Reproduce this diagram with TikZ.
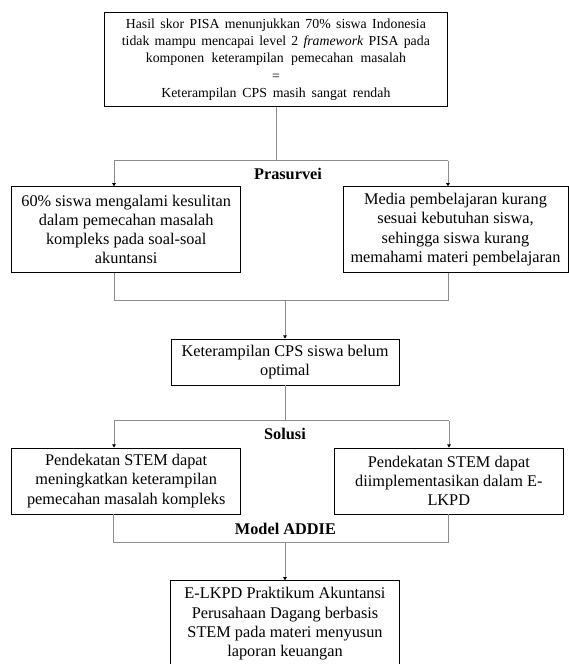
\documentclass[tikz,border=0pt]{standalone}
\usepackage{fontspec}
\setmainfont{Liberation Serif}
\usetikzlibrary{arrows.meta}
\newcommand{\wideline}[2]{\makebox[#1][s]{#2}}

\begin{document}
\begin{tikzpicture}[x=1pt,y=-1pt,
  kotak/.style={draw=black,line width=0.8pt,inner sep=0pt,align=center,
    font=\fontsize{16.3}{19.2}\selectfont},
  garis/.style={draw=black!45,line width=0.7pt},
  panah/.style={garis,-{Triangle[length=3.2pt,width=3.6pt,color=black]}},
  judul/.style={font=\fontsize{16.3}{19.2}\selectfont\bfseries,inner sep=0pt}]
\useasboundingbox (0,0) rectangle (569,664);

\node[kotak,minimum width=342.3pt,minimum height=93.8pt,
  font=\fontsize{13.8}{17.3}\selectfont] (pisa) at (275.9,59.6)
  {\wideline{300pt}{Hasil skor PISA menunjukkan 70\% siswa Indonesia}\\
   \wideline{308pt}{tidak mampu mencapai level 2 \emph{framework} PISA pada}\\
   \wideline{260pt}{komponen keterampilan pemecahan masalah}\\
   =\\
   \wideline{229pt}{Keterampilan CPS masih sangat rendah}};
\node[kotak,minimum width=229pt,minimum height=85.6pt] (pra1) at (126.2,229.5)
  {60\% siswa mengalami kesulitan\\dalam pemecahan masalah\\kompleks pada soal-soal\\akuntansi};
\node[kotak,minimum width=225pt,minimum height=85.6pt] (pra2) at (455.5,229.5)
  {Media pembelajaran kurang\\sesuai kebutuhan siswa,\\sehingga siswa kurang\\memahami materi pembelajaran};
\node[kotak,minimum width=228pt,minimum height=46pt] (cps) at (285,362)
  {Keterampilan CPS siswa belum\\optimal};
\node[kotak,minimum width=229pt,minimum height=66pt] (stem1) at (126.2,481)
  {Pendekatan STEM dapat\\meningkatkan keterampilan\\pemecahan masalah kompleks};
\node[kotak,minimum width=229.5pt,minimum height=66pt] (stem2) at (448.8,481)
  {Pendekatan STEM dapat\\diimplementasikan dalam E-\\LKPD};
\node[kotak,minimum width=228.7pt,minimum height=86pt] (elkpd) at (285,623.7)
  {E-LKPD Praktikum Akuntansi\\Perusahaan Dagang berbasis\\STEM pada materi menyusun\\laporan keuangan};

\node[judul] (pra) at (288,174) {Prasurvei};
\node[judul] (sol) at (285,434.3) {Solusi};
\node[judul] (addie) at (285.4,529) {Model ADDIE};

\coordinate (a1) at (114,160.7);
\coordinate (a2) at (448,160.7);
\draw[garis] (pisa.south) -- (pisa.south |- a1);
\draw[garis] (a1) -- (a2);
\draw[panah] (a1) -- (a1 |- pra1.north);
\draw[panah] (a2) -- (a2 |- pra2.north);

\coordinate (b1) at (114,300);
\coordinate (b2) at (448.8,300);
\draw[garis] (b1 |- pra1.south) -- (b1) -- (b2) -- (b2 |- pra2.south);
\draw[panah] (cps.north |- b1) -- (cps.north);

\coordinate (c1) at (114,420.7);
\coordinate (c2) at (449,420.7);
\draw[garis] (cps.south) -- (cps.south |- c1);
\draw[garis] (c1) -- (c2);
\draw[panah] (c1) -- (c1 |- stem1.north);
\draw[panah] (c2) -- (c2 |- stem2.north);

\coordinate (d1) at (113.7,542);
\coordinate (d2) at (448.8,542);
\draw[garis] (d1 |- stem1.south) -- (d1) -- (d2) -- (d2 |- stem2.south);
\draw[panah] (elkpd.north |- d1) -- (elkpd.north);
\end{tikzpicture}
\end{document}
